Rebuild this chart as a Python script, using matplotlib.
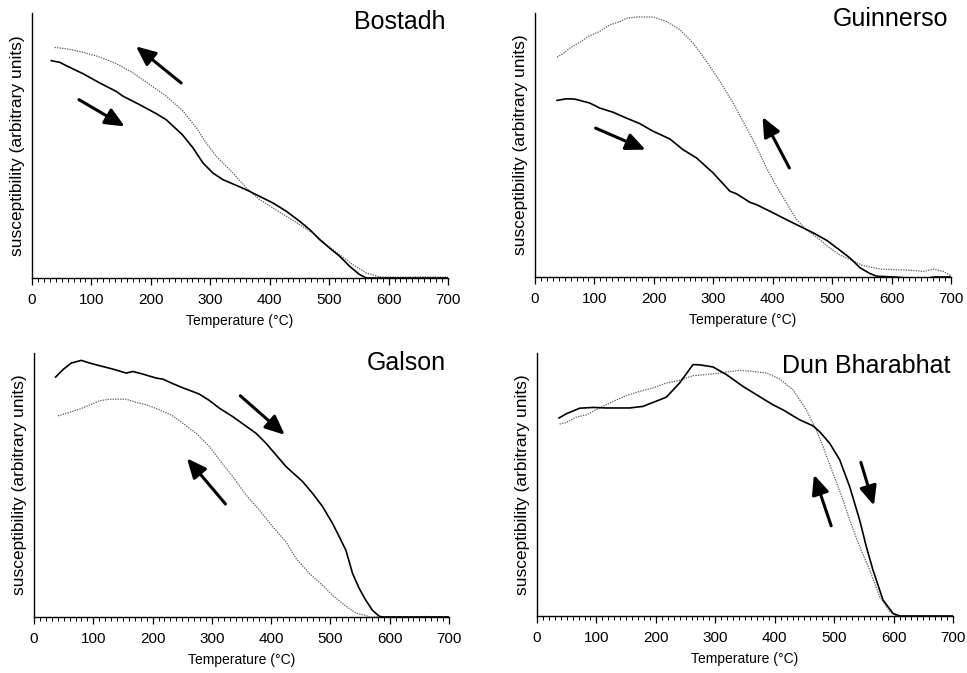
import numpy as np
import matplotlib.pyplot as plt
from matplotlib.ticker import MultipleLocator

plt.rcParams['font.family'] = ['Liberation Sans', 'DejaVu Sans']

# ---- Bostadh ----
bos_heat_t = [32.5, 46.6, 57.8, 85.8, 113.9, 141.9, 153.1, 181.2, 209.2, 226.0, 252.9, 270.9,
              287.7, 304.5, 321.4, 338.2, 360.6, 383.1, 405.5, 427.9, 450.4, 467.2, 484.0,
              500.8, 517.7, 534.5, 551.3, 562.5, 600, 650, 700]
bos_heat_k = [0.820, 0.814, 0.801, 0.771, 0.736, 0.704, 0.686, 0.654, 0.620, 0.597, 0.541, 0.491,
              0.434, 0.396, 0.371, 0.355, 0.333, 0.308, 0.283, 0.252, 0.214, 0.183, 0.145,
              0.113, 0.082, 0.044, 0.013, 0.0, 0.0, 0.0, 0.0]
bos_cool_t = [38.1, 57.8, 85.8, 113.9, 141.9, 169.9, 198.0, 226.0, 254.1, 276.5, 293.3, 310.2,
              338.2, 360.6, 383.1, 405.5, 427.9, 450.4, 472.8, 495.2, 517.7, 540.1, 562.5,
              585.0, 620, 660, 700]
bos_cool_k = [0.870, 0.865, 0.852, 0.834, 0.809, 0.774, 0.730, 0.686, 0.630, 0.567, 0.509, 0.459,
              0.396, 0.340, 0.296, 0.264, 0.233, 0.201, 0.170, 0.126, 0.088, 0.050, 0.019,
              0.004, 0.003, 0.004, 0.003]

# ---- Guinnerso ----
gui_heat_t = [37.1, 52.8, 66.8, 92.1, 108.9, 131.4, 153.8, 176.3, 198.8, 226.8, 249.3, 271.8,
              299.8, 327.9, 339.1, 361.6, 372.8, 395.3, 423.4, 445.8, 468.3, 490.7, 510.4,
              530.0, 546.9, 563.7, 575.0, 603.0, 653.6, 670.4, 700]
gui_heat_k = [0.669, 0.675, 0.674, 0.659, 0.640, 0.624, 0.602, 0.581, 0.552, 0.523, 0.482, 0.451,
              0.394, 0.325, 0.315, 0.283, 0.274, 0.249, 0.217, 0.192, 0.167, 0.139, 0.106,
              0.072, 0.035, 0.013, 0.003, 0.0, -0.008, 0.0, 0.0]
gui_cool_t = [37.1, 47.2, 58.4, 75.2, 92.1, 108.9, 125.8, 142.6, 153.8, 170.7, 198.8, 221.2,
              243.7, 266.1, 288.6, 311.1, 333.5, 356.0, 372.8, 389.7, 406.5, 423.4, 440.2,
              457.1, 479.5, 496.4, 513.2, 530.0, 552.5, 580.6, 636.7, 653.6, 670.4, 687.3, 700]
gui_cool_k = [0.833, 0.846, 0.867, 0.889, 0.914, 0.930, 0.955, 0.967, 0.980, 0.985, 0.985, 0.968,
              0.937, 0.886, 0.817, 0.741, 0.659, 0.564, 0.494, 0.412, 0.343, 0.280, 0.217,
              0.179, 0.141, 0.109, 0.083, 0.066, 0.043, 0.030, 0.025, 0.021, 0.030, 0.021, 0.005]

# ---- Galson ----
gal_heat_t = [36.5, 48.8, 62.9, 79.7, 93.8, 110.6, 133.1, 155.5, 166.8, 183.6, 206.1, 217.3,
              234.1, 251.0, 267.8, 279.1, 295.9, 312.7, 335.2, 352.0, 374.5, 391.4, 408.2,
              425.0, 436.3, 453.1, 470.0, 486.8, 503.7, 514.9, 526.1, 537.3, 548.6, 559.8,
              571.0, 582.3, 588.0, 620, 660, 700]
gal_heat_k = [0.909, 0.937, 0.962, 0.972, 0.962, 0.952, 0.939, 0.924, 0.930, 0.920, 0.905, 0.901,
              0.884, 0.868, 0.854, 0.844, 0.820, 0.791, 0.759, 0.732, 0.696, 0.658, 0.614,
              0.570, 0.547, 0.513, 0.468, 0.418, 0.354, 0.304, 0.253, 0.165, 0.108, 0.063,
              0.025, 0.003, 0.0, 0.0, 0.0, 0.0]
gal_cool_t = [40.4, 60.1, 82.5, 110.6, 127.5, 155.5, 172.4, 189.2, 211.7, 234.1, 251.0, 273.5,
              295.9, 312.7, 335.2, 357.7, 380.1, 402.6, 425.0, 441.9, 464.3, 486.8, 503.7,
              526.1, 543.0, 559.8, 565.4, 620, 660, 700]
gal_cool_k = [0.762, 0.775, 0.792, 0.819, 0.825, 0.825, 0.813, 0.804, 0.785, 0.762, 0.734, 0.696,
              0.646, 0.595, 0.532, 0.462, 0.405, 0.342, 0.285, 0.222, 0.165, 0.120, 0.082,
              0.041, 0.015, 0.006, 0.0, 0.0, 0.002, 0.0]

# ---- Dun Bharabhat ----
dun_heat_t = [37.0, 49.4, 71.8, 94.2, 116.7, 155.9, 178.4, 195.2, 217.6, 240.0, 262.5, 273.7,
              296.1, 318.6, 346.6, 374.6, 397.1, 413.9, 430.7, 442.0, 464.4, 475.6, 492.4,
              509.3, 526.1, 542.9, 554.1, 565.3, 582.2, 599.0, 610.2, 650, 700]
dun_heat_k = [0.753, 0.769, 0.790, 0.793, 0.791, 0.791, 0.797, 0.812, 0.832, 0.886, 0.956, 0.955,
              0.947, 0.918, 0.873, 0.834, 0.803, 0.784, 0.761, 0.746, 0.723, 0.701, 0.657,
              0.594, 0.492, 0.365, 0.264, 0.175, 0.061, 0.010, 0.0, 0.0, 0.0]
dun_cool_t = [38.1, 49.4, 66.2, 83.0, 105.4, 127.9, 150.3, 172.7, 195.2, 217.6, 240.0, 262.5,
              284.9, 307.4, 341.0, 363.4, 385.9, 408.3, 430.7, 453.2, 470.0, 481.2, 498.0,
              514.9, 526.1, 542.9, 559.8, 576.6, 593.4, 604.6]
dun_cool_k = [0.730, 0.736, 0.756, 0.765, 0.791, 0.816, 0.838, 0.854, 0.867, 0.886, 0.896, 0.914,
              0.918, 0.924, 0.934, 0.930, 0.924, 0.901, 0.860, 0.784, 0.708, 0.645, 0.543,
              0.442, 0.365, 0.264, 0.175, 0.074, 0.017, 0.0]

names = ['Bostadh', 'Guinnerso', 'Galson', 'Dun Bharabhat']
heating = [(bos_heat_t, bos_heat_k), (gui_heat_t, gui_heat_k),
           (gal_heat_t, gal_heat_k), (dun_heat_t, dun_heat_k)]
cooling = [(bos_cool_t, bos_cool_k), (gui_cool_t, gui_cool_k),
           (gal_cool_t, gal_cool_k), (dun_cool_t, dun_cool_k)]
# arrows: (tail T, tail k, head T, head k)
arrows = [[(251, 0.736, 175, 0.874), (79, 0.673, 156, 0.572)],
          [(102, 0.564, 186, 0.482), (428, 0.413, 383, 0.606)],
          [(348, 0.838, 423, 0.690), (323, 0.428, 258, 0.601)],
          [(495, 0.343, 466, 0.537), (545, 0.584, 567, 0.420)]]

# axes boxes in pixels: left, right, bottom(y from top), top(y from top)
boxes = [(32, 448, 278, 13), (535, 951, 277, 13), (34, 449, 617, 353), (537, 953, 616, 353)]
title_y = [0.94, 0.95, 0.935, 0.924]

W, H = 967, 673
fig = plt.figure(figsize=(W / 100, H / 100), dpi=100)

for i in range(4):
    l, r, b, t = boxes[i]
    ax = fig.add_axes([l / W, (H - b) / H, (r - l) / W, (b - t) / H])
    ax.plot(*cooling[i], color='0.35', lw=0.9, ls=(0, (1, 1)))
    ax.plot(*heating[i], color='black', lw=1.2)
    for (x0, y0, x1, y1) in arrows[i]:
        ax.annotate('', xy=(x1, y1), xytext=(x0, y0),
                    arrowprops=dict(arrowstyle='-|>,head_length=0.9,head_width=0.4',
                                    lw=2.2, color='black', mutation_scale=13,
                                    shrinkA=0, shrinkB=0))
    ax.set_xlim(0, 700)
    ax.set_ylim(0, 1)
    for s in ['top', 'right']:
        ax.spines[s].set_visible(False)
    ax.spines['left'].set_linewidth(1.0)
    ax.spines['bottom'].set_linewidth(1.0)
    ax.set_yticks([])
    ax.xaxis.set_major_locator(MultipleLocator(100))
    ax.xaxis.set_minor_locator(MultipleLocator(10))
    ax.tick_params(axis='x', which='major', direction='out', length=5, width=0.9,
                   labelsize=11, pad=6)
    ax.tick_params(axis='x', which='minor', direction='out', length=3, width=0.7)
    ax.set_xlabel('Temperature (°C)', fontsize=10, labelpad=5)
    ax.set_ylabel('susceptibility (arbitrary units)', fontsize=12.5, labelpad=5)
    ax.text(0.993, title_y[i], names[i], transform=ax.transAxes,
            ha='right', va='baseline', fontsize=18)

fig.savefig('out.png', dpi=100)
